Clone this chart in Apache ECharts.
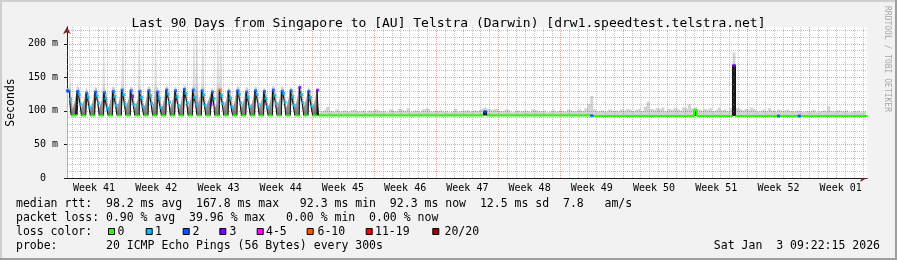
<!DOCTYPE html>
<html><head><meta charset="utf-8">
<script src="https://cdn.jsdelivr.net/npm/echarts@6/dist/echarts.min.js"></script>
<style>html,body{margin:0;padding:0;background:#f2f2f2;}#c{width:897px;height:260px;}</style>
</head><body><div id="c"></div>
<script>
// ---------- DATA ----------
const titleText = 'Last 90 Days from Singapore to [AU] Telstra (Darwin) [drw1.speedtest.telstra.net]';
const weekLabels = ['Week 41','Week 42','Week 43','Week 44','Week 45','Week 46','Week 47','Week 48','Week 49','Week 50','Week 51','Week 52','Week 01'];
const weekCenters = [3.5,10.5,17.5,24.5,31.5,38.5,45.5,52.5,59.5,66.5,73.5,80.5,87.5];
const yTickValues = [0,50,100,150,200];
const xRange = [0.46, 90.46];   // days since Mon Oct 6 00:00
const yRange = [0, 225];        // ms

// daily oscillation period: samples every 4h starting day 0.5
const oscStart = 0.5, oscStep = 1/6;
const oscMedian = [
 130,129,117,93.3,93.3,93.3,
 94,129,124,110,93.3,93.3,
 93.3,126,120,106,93.3,93.3,
 93.3,128,122,112,93.3,93.3,
 93.3,127,118,104,93.3,93.3,
 93.3,129,121,108,93.3,93.3,
 93.3,131,124,110,93.3,93.3,
 93.3,130,122,109,93.3,93.3,
 93.3,129,120,106,93.3,93.3,
 93.3,130,123,111,93.3,93.3,
 93.3,128,119,105,93.3,93.3,
 93.3,131,125,113,93.3,93.3,
 93.3,130,121,108,93.3,93.3,
 93.3,132,126,112,93.3,93.3,
 93.3,131,120,110,93.3,93.3,
 93.3,130,124,108,93.3,93.3,
 93.3,110,128,118,93.3,93.3,
 93.3,131,123,111,93.3,93.3,
 93.3,129,119,106,93.3,93.3,
 93.3,130,125,112,93.3,93.3,
 93.3,128,120,107,93.3,93.3,
 93.3,130,124,110,93.3,93.3,
 93.3,129,118,106,93.3,93.3,
 93.3,131,123,111,93.3,93.3,
 93.3,129,126,113,93.3,93.3,
 93.3,130,121,108,93.3,93.3,
 93.3,135,124,112,93.3,93.3,
 93.3,129,120,107,93.3,93.3,
 93.3,131
];
const oscSmoke = [
 134,136,240,126,103,110,
 121,137,135,128,104,112,
 118,135,132,125,102,109,
 120,136,134,127,104,111,
 119,240,133,126,103,110,
 122,137,135,129,104,112,
 121,138,240,128,105,112,
 120,137,135,127,103,111,
 118,240,134,126,104,110,
 122,137,136,129,105,112,
 240,136,133,125,103,110,
 121,138,136,129,104,112,
 119,137,134,127,103,111,
 123,139,137,130,105,113,
 120,138,240,128,240,111,
 121,137,240,128,104,112,
 118,125,136,130,104,110,
 240,138,240,128,105,112,
 119,136,133,126,103,110,
 122,137,136,129,105,112,
 120,136,134,127,104,111,
 121,137,135,128,104,112,
 119,136,133,126,103,110,
 122,138,136,129,105,112,
 120,137,135,130,104,111,
 121,137,134,128,104,112,
 122,140,136,129,105,112,
 120,136,133,127,104,111,
 121,137
];
const oscLoss = [
 2,2,1,0,0,0,
 0,2,1,1,0,0,
 0,2,1,1,0,0,
 0,2,1,1,0,0,
 0,2,1,1,0,0,
 0,2,1,1,0,0,
 0,2,1,1,0,0,
 0,2,3,1,0,0,
 0,2,1,1,0,0,
 0,2,1,1,0,0,
 0,2,1,1,0,0,
 0,2,1,1,0,0,
 0,2,1,1,0,0,
 0,2,1,1,0,0,
 0,2,1,1,0,0,
 0,2,1,1,0,0,
 0,3,2,1,0,0,
 0,7,1,1,0,0,
 0,2,1,1,0,0,
 0,2,1,1,0,0,
 0,2,1,1,0,0,
 0,2,1,1,0,0,
 0,2,1,1,0,0,
 0,2,1,1,0,0,
 0,2,1,1,0,0,
 0,2,1,1,0,0,
 0,3,1,1,0,0,
 0,2,1,1,0,0,
 0,3
];

// stable period: samples every 8h
const flatStart = 28 + 5/6, flatStep = 1/3;
const flatMedian = [
 93.3,93.3,93.3,93.3,93.3,93.3,93.3,93.3,93.3,93.3,
 93.3,93.3,93.3,93.3,93.3,93.3,93.3,93.3,93.3,93.3,
 93.3,93.3,93.3,93.3,93.3,93.3,93.3,93.3,93.3,93.3,
 93.3,93.3,93.3,93.3,93.3,93.3,93.3,93.3,93.3,93.3,
 93.3,93.3,93.3,93.3,93.3,93.3,93.3,93.3,93.3,93.3,
 93.3,93.3,93.3,93.3,93.3,93.3,99,93.3,93.3,93.3,
 93.3,93.3,93.3,93.3,93.3,93.3,93.3,93.3,93.3,93.3,
 93.3,93.3,93.3,93.3,93.3,93.3,93.3,93.3,93.3,93.3,
 93.3,93.3,93.3,93.3,93.3,93.3,93.3,93.3,93.3,93.3,
 93.3,93.3,92.8,92.3,92.3,92.3,92.3,92.3,92.3,92.3,
 92.3,92.3,92.3,92.3,92.3,92.3,92.3,92.3,92.3,92.3,
 92.3,92.3,92.3,92.3,92.3,92.3,92.3,92.3,92.3,92.3,
 92.3,92.3,92.3,92.3,92.3,92.3,92.3,101,92.3,92.3,
 92.3,92.3,92.3,92.3,92.3,92.3,92.3,92.3,92.3,92.3,
 167.8,92.3,92.3,92.3,92.3,92.3,92.3,92.3,92.3,92.3,
 92.3,92.3,92.3,92.3,92.3,92.3,92.3,92.3,92.3,92.3,
 92.3,92.3,92.3,92.3,92.3,92.3,92.3,92.3,92.3,92.3,
 92.3,92.3,92.3,92.3,92.3,92.3,92.3,92.3,92.3,92.3,
 92.3,92.3,92.3,92.3,92.3,92.3
];
const flatSmoke = [
 97,99,101,106,100,98,102,99,101,100,
 98,101,103,99,100,102,98,101,99,102,
 100,99,101,98,102,100,99,103,101,100,
 104,99,101,100,98,102,104,103,99,101,
 100,102,99,101,98,100,103,99,101,100,
 102,99,101,100,102,104,106,103,101,103,
 103,100,99,102,101,98,100,102,99,101,
 100,98,102,101,99,100,101,98,100,102,
 99,101,100,98,102,100,99,101,103,100,
 104,110,122,102,99,101,100,98,102,100,
 101,99,102,100,103,101,99,102,104,100,
 106,114,103,101,104,102,105,100,103,101,
 104,102,100,105,103,110,104,106,102,100,
 103,101,104,100,102,105,101,103,100,104,
 187,104,102,100,103,101,105,102,99,101,
 103,100,104,101,99,102,100,101,103,100,
 99,101,100,98,100,99,101,102,98,100,
 101,99,107,100,98,101,99,100,102,98,
 100,99,101,98,100,99
];
const flatLossIdx = [56, 92, 140, 155, 162];
const flatLossCnt = [2, 2, 3, 2, 2];

const lossClasses = [
 {label:'0', color:'#26ff00', lo:0, hi:0},
 {label:'1', color:'#00b8ff', lo:1, hi:1},
 {label:'2', color:'#0059ff', lo:2, hi:2},
 {label:'3', color:'#7e00ff', lo:3, hi:3},
 {label:'4-5', color:'#ff00ff', lo:4, hi:5},
 {label:'6-10', color:'#ff5500', lo:6, hi:10},
 {label:'11-19', color:'#ff0000', lo:11, hi:19},
 {label:'20/20', color:'#a10000', lo:20, hi:20}
];
const statLines = [
 'median rtt:  98.2 ms avg  167.8 ms max   92.3 ms min  92.3 ms now  12.5 ms sd  7.8   am/s',
 'packet loss: 0.90 % avg  39.96 % max   0.00 % min  0.00 % now'
];
const probeLine = 'probe:       20 ICMP Echo Pings (56 Bytes) every 300s';
const dateLine = 'Sat Jan  3 09:22:15 2026';

// ---------- BUILD ----------
const MONO = '"DejaVu Sans Mono", monospace';
const flatLoss = flatMedian.map(() => 0);
flatLossIdx.forEach((idx, k) => { flatLoss[idx] = flatLossCnt[k]; });
const pts = [];
oscMedian.forEach((m, i) => pts.push({t: oscStart + i * oscStep, m, s: oscSmoke[i], l: oscLoss[i], osc: true}));
flatMedian.forEach((m, i) => pts.push({t: flatStart + i * flatStep, m, s: flatSmoke[i], l: flatLoss[i], osc: false}));
pts.forEach((p, i) => {
  const prev = i > 0 ? pts[i-1].m : p.m;
  p.lo = (p.m - prev > 4) ? prev : p.m;   // rising edge: dense smoke from previous level
});
const nOsc = oscMedian.length;
const oscPts = pts.slice(0, nOsc + 1), flatPts = pts.slice(nOsc);

const series = [];
const common = {type:'line', xAxisIndex:1, yAxisIndex:1, step:'middle', symbol:'none', silent:true};
const oscFill = {type:'linear', x:0, y:118, x2:0, y2:84, global:true, colorStops:[{offset:0, color:'#6c6c6c'}, {offset:1, color:'#dedede'}]};
series.push(Object.assign({}, common, {z:1, data:oscPts.map(p => [p.t, Math.max(p.s, p.m)]), lineStyle:{width:0}, areaStyle:{color:oscFill, opacity:1, origin:'start'}}));
series.push(Object.assign({}, common, {z:1, data:flatPts.map(p => [p.t, Math.max(p.s, p.m)]), lineStyle:{width:0}, areaStyle:{color:'#d3d3d3', opacity:1, origin:'start'}}));
series.push(Object.assign({}, common, {z:1, data:pts.map(p => [p.t, p.m]), lineStyle:{width:0}, areaStyle:{color:'#1e1e1e', opacity:1, origin:'start'}}));
series.push(Object.assign({}, common, {z:1, data:pts.map(p => [p.t, p.lo]), lineStyle:{width:0}, areaStyle:{color:'#ffffff', opacity:1, origin:'start'}}));

// grid lines (above smoke, below median)
const gridLines = [];
const minorStyle = {color:'rgba(143,143,143,0.55)', type:[1,1], width:1};
const majorStyle = {color:'rgba(222,79,79,0.55)', type:[1,1], width:1};
for (let d = 1; d <= 90; d++) gridLines.push({xAxis: d, lineStyle: d % 7 === 0 ? majorStyle : minorStyle});
for (let v = 10; v <= 220; v += 10) gridLines.push({yAxis: v, lineStyle: v % 50 === 0 ? majorStyle : minorStyle});
series.push({type:'line', xAxisIndex:1, yAxisIndex:1, data:[[xRange[0], null]], z:2, silent:true, symbol:'none',
  markLine:{silent:true, symbol:['none','none'], label:{show:false}, z:2, animation:false, data:gridLines}});

series.push(Object.assign({}, common, {z:3, data:pts.map(p => [p.t, p.m]), lineStyle:{color:'#111', width:1}}));
series.push(Object.assign({}, common, {z:4, connectNulls:false,
  data:pts.map(p => [p.t, p.l === 0 ? p.m : null]), lineStyle:{color:lossClasses[0].color, width:2}}));
lossClasses.slice(1).forEach(c => {
  const d = pts.filter(p => p.l >= c.lo && p.l <= c.hi).map(p => [p.t, p.m]);
  if (d.length) series.push({type:'scatter', xAxisIndex:1, yAxisIndex:1, symbol:'rect', symbolSize:3, z:5, data:d, itemStyle:{color:c.color}, silent:true});
});

// ---------- GRAPHICS (frame + legend texts) ----------
const graphic = [
  {type:'rect', shape:{x:0,y:0,width:897,height:2}, style:{fill:'#cfcfcf'}},
  {type:'rect', shape:{x:0,y:0,width:2,height:260}, style:{fill:'#cfcfcf'}},
  {type:'rect', shape:{x:895,y:0,width:2,height:260}, style:{fill:'#9e9e9e'}},
  {type:'rect', shape:{x:0,y:258,width:897,height:2}, style:{fill:'#9e9e9e'}},
  {type:'text', x:887, y:6, rotation:-Math.PI/2, style:{text:'RRDTOOL / TOBI OETIKER', font:'8px '+MONO, fill:'#a8a8a8', textAlign:'left', textVerticalAlign:'middle', align:'left', verticalAlign:'middle'}}
];
const lineY = [204, 218, 232, 246.5];
const addText = (txt, x, y, align) => graphic.push({type:'text', x, y, style:{text:txt, font:'11.5px '+MONO, fill:'#000', textAlign:align||'left', textVerticalAlign:'middle', align:align||'left', verticalAlign:'middle'}});
addText(statLines[0], 16, lineY[0]);
addText(statLines[1], 16, lineY[1]);
addText('loss color:', 16, lineY[2]);
const boxX = [108, 145.7, 182.7, 219.3, 256.7, 306.7, 365.7, 432.3];
const lblX = [117.5, 155, 192.5, 229.5, 266, 317.5, 375, 444.5];
lossClasses.forEach((c, i) => {
  graphic.push({type:'rect', shape:{x:boxX[i]+0.5, y:lineY[2]-3.5, width:6, height:6}, style:{fill:c.color, stroke:'#000', lineWidth:1}});
  addText(c.label, lblX[i], lineY[2]);
});
addText(probeLine, 16, lineY[3]);
addText(dateLine, 880, lineY[3], 'right');

const axisBase = (isX, dark) => ({
  type:'value', min: isX ? xRange[0] : yRange[0], max: isX ? xRange[1] : yRange[1],
  position: isX ? 'bottom' : 'left',
  splitLine:{show:false},
  axisLine:{show:true, onZero:false, symbol: dark ? ['none','none'] : ['none','arrow'], symbolSize:[6,7], lineStyle:{color: dark ? '#1f1f1f' : '#801f1f', width:1}},
  axisTick:{show:false}, axisLabel:{show:false}
});
const xMain = axisBase(true, true);
xMain.axisLabel = {show:true, customValues:weekCenters, formatter:v => weekLabels[weekCenters.indexOf(v)] || '', fontFamily:MONO, fontSize:10, color:'#000', margin:5};
const yMain = axisBase(false, true);
yMain.axisTick = {show:true, customValues:yTickValues, length:3, lineStyle:{color:'#1f1f1f'}};
yMain.axisLabel = {show:true, customValues:yTickValues, formatter:v => v === 0 ? '0  ' : v + ' m', fontFamily:MONO, fontSize:10, color:'#000', margin:9};
yMain.name = 'Seconds'; yMain.nameLocation = 'middle'; yMain.nameRotate = 90; yMain.nameGap = 49;
yMain.nameTextStyle = {fontFamily:MONO, fontSize:11.5, color:'#000'};

const chart = echarts.init(document.getElementById('c'), null, {renderer:'canvas'});
chart.setOption({
  animation:false,
  backgroundColor:'#f2f2f2',
  title:{text:titleText, left:'center', top:12, textStyle:{fontFamily:MONO, fontSize:13, fontWeight:'normal', color:'#000'}},
  grid:{left:67, top:27, width:800, height:151, show:true, backgroundColor:'#ffffff', borderWidth:0, containLabel:false, outerBoundsMode:'none'},
  xAxis:[axisBase(true, false), xMain],
  yAxis:[axisBase(false, false), yMain],
  series, graphic
});
</script></body></html>
